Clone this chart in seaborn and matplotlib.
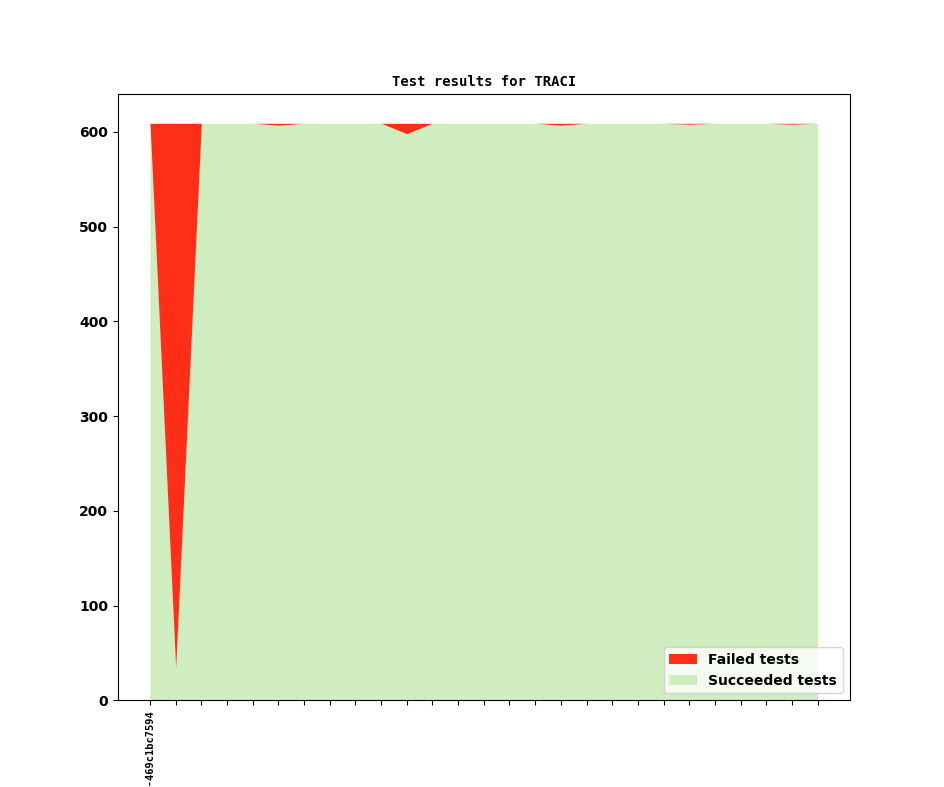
import numpy as np
import matplotlib
matplotlib.use("Agg")
import matplotlib.pyplot as plt
import seaborn as sns

# test counts per build (total suite size stays at 609)
failed = [0, 575, 0, 0, 0, 2, 0, 0, 0, 0, 11, 0, 0, 0, 0, 0, 2, 0, 0, 0, 0, 1, 0, 0, 0, 1, 0]
succeeded = [609 - f for f in failed]
build_labels = ["v1_9_2+0017-469c1bc7594"] + [""] * (len(failed) - 1)

RED = "#ff2e17"
GREEN = "#cfedbf"

sns.set_style("ticks", rc={"text.color": "black", "axes.edgecolor": "black",
                           "xtick.color": "black", "ytick.color": "black",
                           "axes.labelcolor": "black"})
plt.rcParams["font.family"] = ["DejaVu Sans"]

fig, ax = plt.subplots(figsize=(9.44, 7.87), dpi=100)
x = np.arange(len(failed))
ax.stackplot(x, succeeded, failed, colors=[GREEN, RED], linewidth=0,
             labels=["Succeeded tests", "Failed tests"])
ax.set_xlim(-1.246, len(failed) - 1 + 1.246)

ax.set_xticks(x)
ax.set_xticklabels(build_labels, rotation=90, fontsize=7.5,
                   family="DejaVu Sans Mono", fontweight="bold")
for lbl in ax.get_yticklabels():
    lbl.set_fontweight("bold")
ax.tick_params(axis="y", labelsize=10)
for sp in ax.spines.values():
    sp.set_visible(True)
    sp.set_linewidth(0.8)

ax.set_title("Test results for TRACI", family="DejaVu Sans Mono",
             fontweight="bold", fontsize=10)

handles, labels = ax.get_legend_handles_labels()
ax.legend(handles[::-1], labels[::-1], loc="lower right",
          prop={"weight": "bold", "size": 10})

fig.savefig("out.png", dpi=100)
